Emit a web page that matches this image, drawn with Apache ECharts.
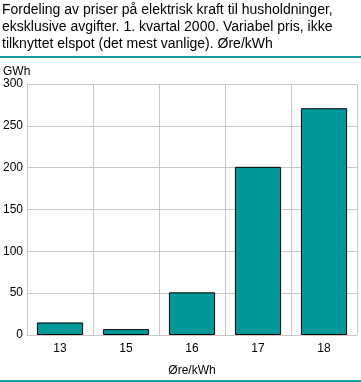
<!DOCTYPE html>
<html><head><meta charset="utf-8">
<script src="https://cdn.jsdelivr.net/npm/echarts@6/dist/echarts.min.js"></script>
<style>html,body{margin:0;padding:0;background:#fff}#c{width:361px;height:382px}</style>
</head><body><div id="c"></div>
<script>
const categories = ['13', '15', '16', '17', '18'];
const values = [15, 7, 51, 201, 271];
const yTicks = [0, 50, 100, 150, 200, 250, 300];
const titleText = 'Fordeling av priser på elektrisk kraft til husholdninger,\neksklusive avgifter. 1. kvartal 2000. Variabel pris, ikke\ntilknyttet elspot (det mest vanlige). Øre/kWh';
const yName = 'GWh';
const xName = 'Øre/kWh';

const chart = echarts.init(document.getElementById('c'), null, {renderer: 'canvas'});
const font = 'Liberation Sans, Arial, sans-serif';
chart.setOption({
  animation: false,
  title: {
    text: titleText, left: 2, top: 2, padding: 0,
    textStyle: {fontFamily: font, fontSize: 14, fontWeight: 'normal', color: '#000', lineHeight: 17}
  },
  graphic: [
    {type: 'line', shape: {x1: 0, y1: 57, x2: 361, y2: 57}, style: {stroke: '#1a9a9a', lineWidth: 2}},
    {type: 'line', shape: {x1: 0, y1: 381, x2: 361, y2: 381}, style: {stroke: '#1a9a9a', lineWidth: 2}}
  ],
  grid: {left: 26, right: 4, top: 84, bottom: 46, containLabel: false},
  xAxis: {
    type: 'category', data: categories,
    name: xName, nameLocation: 'middle', nameGap: 30,
    nameTextStyle: {fontFamily: font, fontSize: 12, color: '#000'},
    axisLine: {show: true, lineStyle: {color: '#c8c8c8'}},
    axisTick: {show: false},
    axisLabel: {fontFamily: font, fontSize: 12, color: '#000', margin: 8},
    splitLine: {show: true, lineStyle: {color: '#c8c8c8', width: 1}}
  },
  yAxis: {
    type: 'value', min: 0, max: 300, interval: 50,
    name: yName, nameLocation: 'end', nameGap: 5,
    nameTextStyle: {fontFamily: font, fontSize: 12, color: '#000', align: 'left', padding: [0, 0, 0, -24]},
    axisLine: {show: true, lineStyle: {color: '#c8c8c8'}},
    axisTick: {show: false},
    axisLabel: {fontFamily: font, fontSize: 12, color: '#000', margin: 4,
      formatter: v => yTicks.includes(v) ? String(v) : ''},
    splitLine: {show: true, lineStyle: {color: '#c8c8c8', width: 1}}
  },
  series: [{
    type: 'bar', data: values, barWidth: '70%',
    itemStyle: {color: '#009999', borderColor: '#000', borderWidth: 1}
  }]
});
</script></body></html>
